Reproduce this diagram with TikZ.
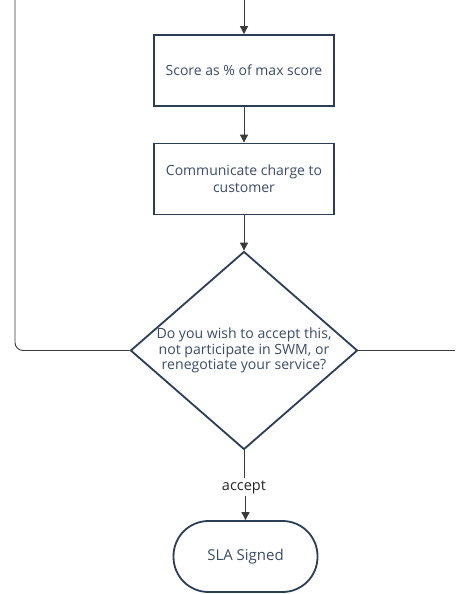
\documentclass[tikz,border=0pt]{standalone}
\usepackage{fontspec}
\setmainfont{Open Sans}
\usetikzlibrary{shapes.geometric,arrows.meta}
\definecolor{edge}{HTML}{2C3E55}
\definecolor{label}{HTML}{3D4C68}
\definecolor{wire}{HTML}{3A3A3A}
\tikzset{
  stepbox/.style={draw=edge, line width=1.8pt, fill=white, rectangle,
    minimum width=180pt, minimum height=71pt, align=center,
    text=label, font=\fontsize{14}{17}\selectfont},
  decision/.style={draw=edge, line width=1.8pt, fill=white, diamond,
    minimum width=227pt, minimum height=198pt, inner sep=0pt},
  asktext/.style={align=center, text=label, inner sep=0pt,
    font=\fontsize{14.1}{15.7}\selectfont},
  terminal/.style={draw=edge, line width=1.8pt, fill=white, rectangle,
    rounded corners=35pt, minimum width=144pt, minimum height=71pt,
    text=label, font=\fontsize{15}{17}\selectfont},
  flow/.style={draw=wire, line width=0.9pt, -{Triangle[length=8pt,width=8pt]}},
  plain/.style={draw=wire, line width=0.9pt},
}
\begin{document}
\begin{tikzpicture}[x=1pt,y=-1pt]
  \useasboundingbox (0,0) rectangle (455,594);
  \coordinate (entry) at (244,0);
  \node[stepbox] (score) at (244,70.5) {Score as \% of max score};
  \node[stepbox] (comm) at (244,179) {Communicate charge to\\customer};
  \node[decision] (ask) at (244,350.5) {};
  \node[asktext] (askq) at (ask.center) {Do you wish to accept this,\\ not participate in SWM, or\\ renegotiate your service?};
  \node[font=\fontsize{14.5}{16}\selectfont, text=black!85, inner sep=2pt] (acc) at (244,487) {accept};
  \node[terminal] (sla) at (245.5,556.5) {SLA Signed};
  \coordinate (leftend) at (15,0);
  \coordinate (rightend) at (455,350.5);

  \draw[flow] (entry) -- (score);
  \draw[flow] (score) -- (comm);
  \draw[flow] (comm) -- (ask);
  \draw[plain] (ask) -- (acc);
  \draw[flow] (acc.south -| sla.north) -- (sla);
  \draw[plain, rounded corners=8pt] (ask.west) -| (leftend);
  \draw[plain] (ask.east) -- (rightend);
\end{tikzpicture}
\end{document}
